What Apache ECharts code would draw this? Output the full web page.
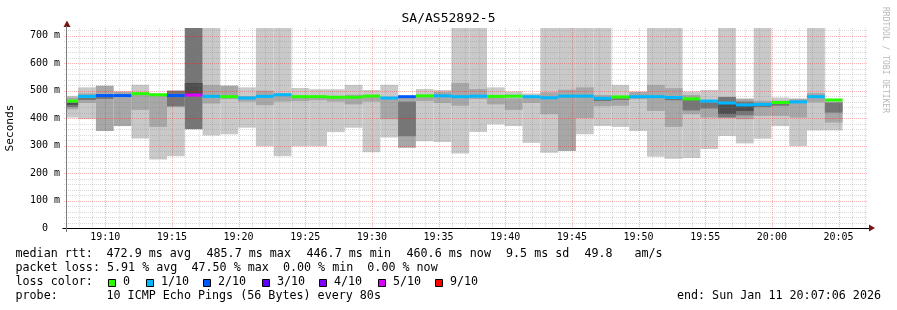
<!DOCTYPE html>
<html>
<head>
<meta charset="utf-8">
<script src="https://cdn.jsdelivr.net/npm/echarts@6/dist/echarts.min.js"></script>
<style>
html,body{margin:0;padding:0;background:#ffffff;}
#chart{width:897px;height:310px;}
</style>
</head>
<body>
<div id="chart"></div>
<script>
// ---------- axes (time in seconds after 19:00:00) ----------
const stepSeconds = 80;
const firstStepStart = 398;
const viewStart = 428;
const viewEnd = 4028;
const xTickValues = [600, 900, 1200, 1500, 1800, 2100, 2400, 2700, 3000, 3300, 3600, 3900];
const xTickLabels = ['19:10', '19:15', '19:20', '19:25', '19:30', '19:35', '19:40', '19:45', '19:50', '19:55', '20:00', '20:05'];
const yMax = 728;
const yTickValues = [0, 100, 200, 300, 400, 500, 600, 700];
const yTickLabels = ['0', '100 m', '200 m', '300 m', '400 m', '500 m', '600 m', '700 m'];

// ---------- per 80 s step values (ms) ----------
const median = [462, 479, 482, 482, 489, 485, 482, 484, 479, 478, 473, 479, 485, 478, 478, 476, 476, 480, 473, 478, 481, 481, 478, 480, 479, 480, 478, 474, 480, 480, 472, 477, 478, 478, 475, 470, 462, 455, 448, 450, 457, 459, 478, 466];
const lossCount = [0, 1, 2, 2, 0, 0, 2, 5, 1, 0, 1, 1, 1, 0, 0, 0, 0, 0, 1, 2, 0, 1, 1, 1, 0, 0, 1, 1, 1, 1, 1, 0, 1, 1, 1, 0, 1, 1, 1, 1, 0, 1, 1, 0];
// outer smoke (lightest)
const lightLo = [402, 396, null, null, 326, 249, 261, null, 337, 341, 365, 298, 261, 298, 298, 349, 365, 276, 329, null, 316, 313, 271, 349, 377, 371, 310, 274, 280, 341, 371, 368, 353, 259, 252, 255, 288, 335, 308, 325, 371, 298, 355, 355];
const lightHi = [481, 512, null, null, 521, 490, 500, null, 728, 518, 512, 728, 728, 510, 505, 505, 521, 502, 521, null, 506, 502, 728, 728, 512, 497, 490, 728, 728, 728, 728, 521, 497, 728, 728, 497, 502, 728, 472, 728, 475, 472, 728, 470];
// middle smoke
const midLo = [432, 455, 353, 371, 430, 368, null, null, 453, 469, 460, 447, 460, 462, 465, 460, 450, 460, 396, 292, 462, 455, 445, 469, 450, 430, 455, 414, 280, 400, 443, 445, 469, 426, 368, 414, 402, 402, 396, 408, 408, 402, 457, 384];
const midHi = [475, 490, 518, 497, 486, 484, null, null, 521, 518, 480, 500, 490, 480, 478, 478, 485, 478, 469, 480, 478, 495, 528, 506, 478, 472, 478, 494, 503, 512, 484, 478, 495, 521, 509, 484, 463, 477, 469, 463, 463, 469, 491, 457];
// dark smoke
const darkLo = [440, 466, 470, null, null, null, 442, 359, null, null, null, null, null, null, null, null, null, null, null, 334, null, null, null, null, null, null, null, null, null, null, 462, 466, null, null, 465, 428, 435, 402, 410, 440, 445, null, null, 420];
const darkHi = [460, 474, 478, null, null, null, 500, 728, null, null, null, null, null, null, null, null, null, null, null, 460, null, null, null, null, null, null, null, null, null, null, 470, 472, null, null, 471, 466, 457, 477, 460, 455, 452, null, null, 457];
// darkest smoke
const deepLo = [448, null, null, null, null, null, null, 487, null, null, null, null, null, null, null, null, null, null, null, null, null, null, null, null, null, null, null, null, null, null, null, null, null, null, null, null, null, 415, 426, null, null, null, null, null];
const deepHi = [455, null, null, null, null, null, null, 528, null, null, null, null, null, null, null, null, null, null, null, null, null, null, null, null, null, null, null, null, null, null, null, null, null, null, null, null, null, 455, 447, null, null, null, null, null];

// ---------- legend ----------
const lossLabels = ['0', '1/10', '2/10', '3/10', '4/10', '5/10', '9/10'];
const lossColors = ['#26ff00', '#00b8ff', '#0059ff', '#5e00ff', '#7e00ff', '#dd00ff', '#ff0000'];
const statLine1 = ['median rtt:', '472.9 ms avg', '485.7 ms max', '446.7 ms min', '460.6 ms now', '9.5 ms sd', '49.8', 'am/s'];
const statLine2 = 'packet loss: 5.91 % avg  47.50 % max  0.00 % min  0.00 % now';
const probeText = ['probe:', '10 ICMP Echo Pings (56 Bytes) every 80s'];
const endText = 'end: Sun Jan 11 20:07:06 2026';
const titleText = 'SA/AS52892-5';

// ---------- build ----------
function bandData(lo, hi) {
  const out = [];
  for (let i = 0; i < lo.length; i++) {
    if (lo[i] == null || hi[i] == null) continue;
    const s = firstStepStart + i * stepSeconds;
    out.push([s, s + stepSeconds, lo[i], hi[i]]);
  }
  return out;
}
const medianData = median.map((m, i) => {
  const s = firstStepStart + i * stepSeconds;
  return [s, s + stepSeconds, m, lossCount[i]];
});
function lossIndex(n) { return n > 5 ? 6 : n; }

function clipTo(params, r) {
  const cs = params.coordSys;
  return echarts.graphic.clipRectByRect(r, {x: cs.x, y: cs.y, width: cs.width, height: cs.height});
}
function bandRender(color) {
  return function (params, api) {
    const p0 = api.coord([api.value(0), api.value(3)]);
    const p1 = api.coord([api.value(1), api.value(2)]);
    const r = clipTo(params, {x: p0[0], y: p0[1], width: p1[0] - p0[0], height: p1[1] - p0[1]});
    if (!r) return null;
    return {type: 'rect', shape: r, style: {fill: color}, silent: true};
  };
}
function medianRender(params, api) {
  const p0 = api.coord([api.value(0), api.value(2)]);
  const p1 = api.coord([api.value(1), api.value(2)]);
  const r = clipTo(params, {x: p0[0], y: p0[1] - 1.5, width: p1[0] - p0[0], height: 3});
  if (!r) return null;
  return {type: 'rect', shape: r, style: {fill: lossColors[lossIndex(api.value(3))]}, silent: true};
}

const gridData = [];
for (let t = 480; t <= 4020; t += 60) gridData.push([0, t, t % 300 === 0 ? 1 : 0]);
for (let v = 20; v < yMax; v += 20) gridData.push([1, v, v % 100 === 0 ? 1 : 0]);
function gridRender(params, api) {
  const cs = params.coordSys;
  const dir = api.value(0), v = api.value(1), major = api.value(2);
  let shape;
  if (dir === 0) {
    const x = Math.round(api.coord([v, 0])[0]) + 0.5;
    shape = {x1: x, y1: cs.y, x2: x, y2: cs.y + cs.height};
  } else {
    const y = Math.round(api.coord([viewStart, v])[1]) + 0.5;
    shape = {x1: cs.x - 3, y1: y, x2: cs.x + cs.width, y2: y};
  }
  return {type: 'line', shape: shape, silent: true,
    style: {stroke: major ? 'rgba(255,0,0,0.3)' : 'rgba(128,128,128,0.3)', lineWidth: 1, lineDash: [1, 1]}};
}

const mono = '"DejaVu Sans Mono", monospace';
const graphics = [];
function txt(x, y, s, size, opts) {
  graphics.push(Object.assign({
    type: 'text', x: x, y: y, silent: true,
    style: {text: s, font: size + 'px ' + mono, fill: '#000', align: 'left', verticalAlign: 'middle',
            textAlign: 'left', textVerticalAlign: 'middle'}
  }, opts || {}));
}
// stats line 1
const l1x = [15.5, 106.5, 206.5, 306.5, 406.5, 506, 584.5, 634.5];
statLine1.forEach((s, i) => txt(l1x[i], 254, s, 11.7));
txt(15.5, 268, statLine2, 11.7);
txt(15.5, 282, 'loss color:', 11.7);
const boxX = [108, 146, 203, 262, 319, 378, 435];
lossLabels.forEach((s, i) => {
  graphics.push({type: 'rect', silent: true, shape: {x: boxX[i] + 0.5, y: 279.5, width: 7, height: 7},
    style: {fill: lossColors[i], stroke: '#000', lineWidth: 1}});
  txt(boxX[i] + 15, 282, s, 11.7);
});
txt(15.5, 296, probeText[0], 11.7);
txt(106.5, 296, probeText[1], 11.7);
graphics.push({type: 'text', x: 881, y: 296, silent: true,
  style: {text: endText, font: '11.7px ' + mono, fill: '#000', align: 'right', verticalAlign: 'middle', textAlign: 'right', textVerticalAlign: 'middle'}});
// axis name
graphics.push({type: 'text', x: 10.5, y: 128, rotation: Math.PI / 2, silent: true,
  style: {text: 'Seconds', font: '11.1px ' + mono, fill: '#000', align: 'center', verticalAlign: 'middle', textAlign: 'center', textVerticalAlign: 'middle'}});
// watermark
graphics.push({type: 'text', x: 885, y: 60, rotation: -Math.PI / 2, silent: true,
  style: {text: 'RRDTOOL / TOBI OETIKER', font: '8px ' + mono, fill: '#b8b8b8', align: 'center', verticalAlign: 'middle', textAlign: 'center', textVerticalAlign: 'middle'}});
// axis arrows
graphics.push({type: 'polygon', silent: true, shape: {points: [[63.5, 27], [70.5, 27], [67, 20.5]]}, style: {fill: '#7a1414'}});
graphics.push({type: 'polygon', silent: true, shape: {points: [[869, 224.5], [869, 231.5], [875, 228]]}, style: {fill: '#7a1414'}});
// axis lines
graphics.push({type: 'line', silent: true, shape: {x1: 62.5, y1: 228.5, x2: 869, y2: 228.5}, style: {stroke: '#000', lineWidth: 1}});
graphics.push({type: 'line', silent: true, shape: {x1: 66.5, y1: 26, x2: 66.5, y2: 232}, style: {stroke: '#7a7a7a', lineWidth: 1}});

const chart = echarts.init(document.getElementById('chart'), null, {renderer: 'canvas'});
chart.setOption({
  animation: false,
  backgroundColor: '#ffffff',
  title: {text: titleText, left: 'center', top: 12, padding: 0,
    textStyle: {fontFamily: mono, fontSize: 13, fontWeight: 'normal', color: '#000'}},
  grid: {left: 67, top: 28, width: 800, height: 200},
  xAxis: {
    type: 'value', min: viewStart, max: viewEnd,
    axisLine: {show: false}, axisTick: {show: false}, splitLine: {show: false},
    axisLabel: {
      customValues: xTickValues,
      formatter: v => { const i = xTickValues.indexOf(v); return i >= 0 ? xTickLabels[i] : ''; },
      fontFamily: mono, fontSize: 10, color: '#000', margin: 4
    }
  },
  yAxis: {
    type: 'value', min: 0, max: yMax, interval: 100,
    axisLine: {show: false}, axisTick: {show: false}, splitLine: {show: false},
    axisLabel: {
      showMaxLabel: false,
      formatter: v => { const i = yTickValues.indexOf(v); if (i < 0) return ''; const s = yTickLabels[i]; return s.length < 2 ? s + '  ' : s; },
      fontFamily: mono, fontSize: 10, color: '#000', margin: 7
    }
  },
  series: [
    {type: 'custom', name: 'smoke outer', renderItem: bandRender('#c9c9c9'), data: bandData(lightLo, lightHi), z: 1},
    {type: 'custom', name: 'smoke middle', renderItem: bandRender('#a7a7a7'), data: bandData(midLo, midHi), z: 2},
    {type: 'custom', name: 'smoke dark', renderItem: bandRender('#767676'), data: bandData(darkLo, darkHi), z: 3},
    {type: 'custom', name: 'smoke darkest', renderItem: bandRender('#4e4e4e'), data: bandData(deepLo, deepHi), z: 4},
    {type: 'custom', name: 'grid', renderItem: gridRender, data: gridData, z: 5},
    {type: 'custom', name: 'median', renderItem: medianRender, data: medianData, z: 6}
  ],
  graphic: graphics
});
</script>
</body>
</html>
